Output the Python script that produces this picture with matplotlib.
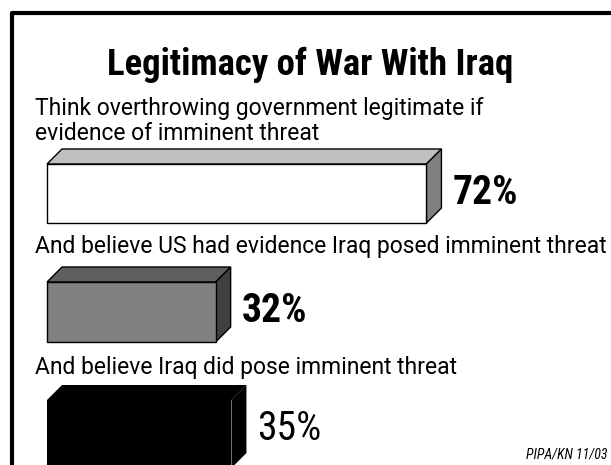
import matplotlib
matplotlib.use("Agg")
import matplotlib.pyplot as plt
from matplotlib.patches import Polygon

# Data
questions = [
    "Think overthrowing government legitimate if\nevidence of imminent threat",
    "And believe US had evidence Iraq posed imminent threat",
    "And believe Iraq did pose imminent threat",
]
percents = [72, 32, 35]
value_labels = ["72%", "32%", "35%"]

front_colors = ["#ffffff", "#808080", "#000000"]
top_colors = ["#c0c0c0", "#5f5f5f", "#000000"]
side_colors = ["#808080", "#404040", "#000000"]

plt.rcParams["font.family"] = ["Roboto Condensed", "Liberation Sans", "DejaVu Sans"]

W, H = 611, 465
fig = plt.figure(figsize=(W / 100, H / 100), dpi=100)
ax = fig.add_axes([0, 0, 1, 1])

# x in percent, y in pixels (top down)
PX = 5.27          # pixels per percent
X0 = 47            # left edge of bars
ax.set_xlim(-X0 / PX, (W - X0) / PX)
ax.set_ylim(H, 0)
ax.axis("off")

bar_tops = [164, 282, 400]
bar_heights = [59, 60, 68]
depth_x = 15 / PX
depth_y = 15

for i, v in enumerate(percents):
    t = bar_tops[i]
    b = t + bar_heights[i]
    ec = "black" if i < 2 else "none"
    # top face
    ax.add_patch(Polygon([(0, t), (depth_x, t - depth_y), (v + depth_x, t - depth_y), (v, t)],
                         closed=True, facecolor=top_colors[i], edgecolor=ec, lw=1))
    # side face
    ax.add_patch(Polygon([(v, t), (v + depth_x, t - depth_y), (v + depth_x, b - depth_y), (v, b)],
                         closed=True, facecolor=side_colors[i], edgecolor=ec, lw=1))
    # front face
    ax.add_patch(Polygon([(0, t), (v, t), (v, b), (0, b)],
                         closed=True, facecolor=front_colors[i], edgecolor=ec, lw=1))
    # value label
    ax.text(v + depth_x + 11 / PX, t + 40, value_labels[i], fontsize=28.5,
            fontweight="bold" if i < 2 else "normal", va="baseline", ha="left")

# question labels (y is the baseline of the last line)
label_y = [140, 253, 374]
for q, y in zip(questions, label_y):
    ax.text(-12 / PX, y, q, fontsize=16.5, family="Roboto", va="baseline", ha="left",
            linespacing=1.1)

# title
ax.text((310 - X0) / PX, 75, "Legitimacy of War With Iraq", fontsize=26.5,
        fontweight="bold", ha="center", va="baseline")

# source note
ax.text((607 - X0) / PX, 458, "PIPA/KN 11/03", fontsize=10, style="italic",
        ha="right", va="baseline")

# frame around the chart
fx0 = (12 - X0) / PX
fx1 = (W + 10 - X0) / PX
ax.plot([fx0, fx0, fx1], [H + 10, 13, 13], color="black", lw=3, solid_capstyle="projecting",
        clip_on=False)

fig.savefig("out.png", dpi=100)
